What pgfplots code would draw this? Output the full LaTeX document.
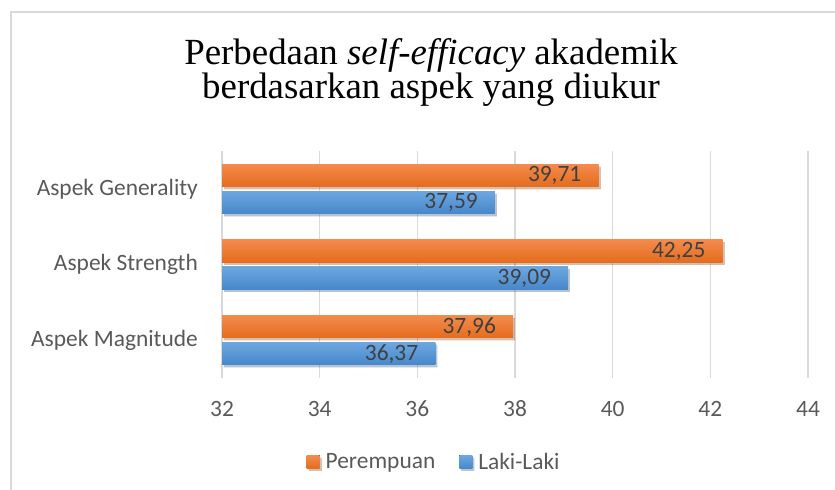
\documentclass[border=0pt]{standalone}
\usepackage{pgfplots}
\pgfplotsset{compat=1.18}
\usepackage{fontspec}
\setmainfont{Carlito}
\newfontfamily\titlefont{Liberation Serif}
\usetikzlibrary{shadows}
\definecolor{gridc}{HTML}{D9D9D9}
\definecolor{tickc}{HTML}{595959}
\definecolor{labc}{HTML}{404040}
\definecolor{orTop}{HTML}{F38B4D}
\definecolor{orBot}{HTML}{E46C1D}
\definecolor{blTop}{HTML}{6CA7E0}
\definecolor{blBot}{HTML}{4787CA}
\pgfplotsset{
  orbar/.style={draw=none, top color=orTop, bottom color=orBot, bar shift=13.5bp,
    drop shadow={shadow xshift=2bp, shadow yshift=-2.5bp, fill=black, opacity=0.18}},
  blbar/.style={draw=none, top color=blTop, bottom color=blBot, bar shift=-13.5bp,
    drop shadow={shadow xshift=2bp, shadow yshift=-2.5bp, fill=black, opacity=0.18}},
}
\begin{document}
\begin{tikzpicture}
\useasboundingbox (0bp,0bp) rectangle (835bp,490bp);
\draw[gridc, line width=2bp] (11bp,-5bp) -- (11bp,478bp) -- (840bp,478bp);
\node[font=\titlefont\fontsize{37}{42}\selectfont, anchor=base] at (431bp,425bp) {Perbedaan \textit{self-efficacy} akademik};
\node[font=\titlefont\fontsize{37}{42}\selectfont, anchor=base] at (431bp,391bp) {berdasarkan aspek yang diukur};
\begin{axis}[
  at={(222bp,112bp)}, anchor=south west,
  scale only axis, width=586bp, height=227bp,
  xbar, bar width=22.5bp,
  xmin=32, xmax=44, ymin=-0.5, ymax=2.5,
  xtick={32,34,...,44},
  ytick={0,1,2},
  yticklabels={Aspek Magnitude, Aspek Strength, Aspek Generality},
  /pgf/number format/assume math mode=true,
  xmajorgrids, grid style={gridc, line width=1.5bp},
  axis line style={draw=none},
  major tick length=0pt,
  tick label style={font=\fontsize{23.5}{27}\selectfont, text=tickc},
  xticklabel style={anchor=center, yshift=-31bp},
  yticklabel style={anchor=east, inner sep=0pt, xshift=-24bp},
  point meta=x,
  nodes near coords={\pgfmathprintnumber[fixed,fixed zerofill,precision=2,use comma]{\pgfplotspointmeta}},
  nodes near coords align={anchor=east},
  every node near coord/.append style={font=\fontsize{23.5}{27}\selectfont, text=labc, inner sep=0pt, xshift=-17bp},
  legend columns=2,
  legend style={draw=none, fill=none, at={(0.362,-0.37)}, anchor=center,
    font=\fontsize{23.5}{27}\selectfont, text=tickc,
    /tikz/every even column/.append style={column sep=22bp}},
  legend image code/.code={\fill[#1] (0bp,-6.5bp) rectangle (13bp,6.5bp); \path (17bp,0bp);},
]
\addplot[orbar] coordinates {(39.71,2)};
\addlegendentry{Perempuan}
\addplot[blbar] coordinates {(37.59,2)};
\addlegendentry{Laki-Laki}
\addplot[orbar, forget plot] coordinates {(42.25,1)};
\addplot[blbar, forget plot] coordinates {(39.09,1)};
\addplot[orbar, forget plot] coordinates {(37.96,0)};
\addplot[blbar, forget plot] coordinates {(36.37,0)};
\end{axis}
\end{tikzpicture}
\end{document}
